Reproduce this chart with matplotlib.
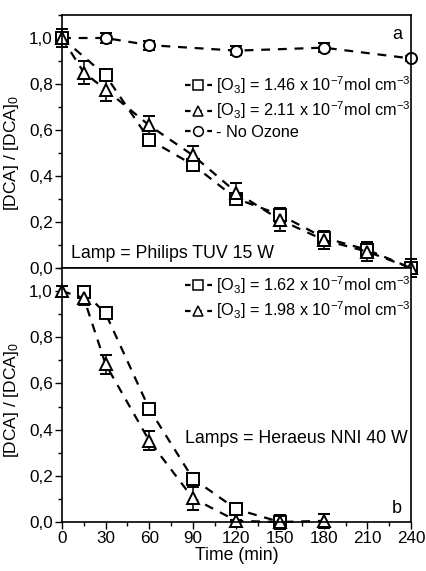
import matplotlib
matplotlib.use("Agg")
import matplotlib.pyplot as plt
from matplotlib.lines import Line2D
from matplotlib.ticker import MultipleLocator, FuncFormatter

plt.rcParams['font.family'] = ['Liberation Sans', 'DejaVu Sans']
plt.rcParams['mathtext.fontset'] = 'custom'
plt.rcParams['mathtext.rm'] = 'Liberation Sans'
plt.rcParams['mathtext.it'] = 'Liberation Sans'
plt.rcParams['font.size'] = 12

# Panel a: Philips TUV 15 W lamp
t_a_sq = [0, 30, 60, 90, 120, 150, 180, 210, 240]
c_a_sq = [1.00, 0.837, 0.558, 0.449, 0.301, 0.231, 0.132, 0.079, 0.0]
e_a_sq = [0.02, 0.02, 0.02, 0.02, 0.02, 0.03, 0.02, 0.02, 0.01]

t_a_tr = [0, 15, 30, 60, 90, 120, 150, 180, 210, 240]
c_a_tr = [1.00, 0.85, 0.776, 0.62, 0.49, 0.328, 0.209, 0.122, 0.071, 0.0]
e_a_tr = [0.02, 0.05, 0.05, 0.04, 0.04, 0.04, 0.05, 0.04, 0.04, 0.04]

t_a_ci = [0, 30, 60, 120, 180, 240]
c_a_ci = [1.00, 1.00, 0.969, 0.945, 0.958, 0.911]
e_a_ci = [0.04, 0.02, 0.02, 0.02, 0.02, 0.01]

# Panel b: Heraeus NNI 40 W lamps
t_b_sq = [15, 30, 60, 90, 120, 150]
c_b_sq = [0.997, 0.903, 0.49, 0.188, 0.055, 0.0]
e_b_sq = [0.01, 0.01, 0.01, 0.01, 0.01, 0.03]

t_b_tr = [0, 15, 30, 60, 90, 120, 150, 180]
c_b_tr = [1.00, 0.97, 0.683, 0.352, 0.103, 0.005, 0.0, 0.005]
e_b_tr = [0.02, 0.03, 0.04, 0.04, 0.05, 0.005, 0.03, 0.03]

lbl_a = [r'[O$_3$] = 1.46 x 10$^{-7}$mol cm$^{-3}$',
         r'[O$_3$] = 2.11 x 10$^{-7}$mol cm$^{-3}$',
         '- No Ozone']
lbl_b = [r'[O$_3$] = 1.62 x 10$^{-7}$mol cm$^{-3}$',
         r'[O$_3$] = 1.98 x 10$^{-7}$mol cm$^{-3}$']

fig = plt.figure(figsize=(4.27, 5.71), dpi=100)
L, R = 62 / 427, 411 / 427
top_a, mid, bot_b = 1 - 15 / 571, 1 - 268 / 571, 1 - 522 / 571
ax_a = fig.add_axes([L, mid, R - L, top_a - mid])
ax_b = fig.add_axes([L, bot_b, R - L, mid - bot_b])

DASH = (0, (4, 3.5))
mk = dict(mfc='white', mec='black', mew=1.4, color='black',
          ecolor='black', elinewidth=1.1, capsize=4, capthick=1.1,
          ls=DASH, lw=1.6)
msize = {'o': 8, 's': 8, '^': 9}


def series(ax, t, c, e, marker):
    h = ax.errorbar(t, c, yerr=e, marker=marker, ms=msize[marker], **mk)
    for art in h.get_children():
        art.set_clip_on(False)
    return h


series(ax_a, t_a_ci, c_a_ci, e_a_ci, 'o')
series(ax_a, t_a_sq, c_a_sq, e_a_sq, 's')
series(ax_a, t_a_tr, c_a_tr, e_a_tr, '^')

series(ax_b, t_b_sq, c_b_sq, e_b_sq, 's')
series(ax_b, t_b_tr, c_b_tr, e_b_tr, '^')

comma = FuncFormatter(lambda v, p: f'{v:.1f}'.replace('.', ','))
for ax in (ax_a, ax_b):
    ax.set_xlim(0, 240)
    ax.set_ylim(0, 1.1)
    ax.yaxis.set_major_locator(MultipleLocator(0.2))
    ax.yaxis.set_minor_locator(MultipleLocator(0.1))
    ax.yaxis.set_major_formatter(comma)
    ax.xaxis.set_major_locator(MultipleLocator(30))
    ax.xaxis.set_minor_locator(MultipleLocator(15))
    ax.tick_params(axis='both', which='major', direction='out', length=5,
                   width=1, labelsize=12.3, pad=1.5)
    ax.tick_params(axis='both', which='minor', direction='out', length=3, width=1)
    for s in ax.spines.values():
        s.set_linewidth(1.2)
    ax.set_ylabel('[DCA] / [DCA]$_0$', fontsize=12.5)

ax_a.yaxis.set_label_coords(-0.117, 0.455)
ax_b.yaxis.set_label_coords(-0.117, 0.48)

ax_a.tick_params(axis='x', which='both', bottom=False, labelbottom=False)
ax_b.set_xlabel('Time (min)', fontsize=12.7, labelpad=1)


def handle(marker):
    return Line2D([], [], color='black', ls=(0, (2.5, 2.5)), lw=1.6,
                  marker=marker, ms=7, mfc='white', mec='black', mew=1.1)


leg_kw = dict(frameon=False, fontsize=11.7, handlelength=1.65,
              handletextpad=0.3, labelspacing=0.22, borderaxespad=0,
              borderpad=0)
ax_a.legend([handle('s'), handle('^'), handle('o')], lbl_a,
            loc='upper right', bbox_to_anchor=(1.0, 0.765), **leg_kw)
ax_b.legend([handle('s'), handle('^')], lbl_b,
            loc='upper right', bbox_to_anchor=(1.0, 0.975), **leg_kw)

ax_a.text(0.975, 0.955, 'a', transform=ax_a.transAxes, ha='right', va='top', fontsize=13)
ax_b.text(0.975, 0.02, 'b', transform=ax_b.transAxes, ha='right', va='bottom', fontsize=13)
ax_a.text(0.025, 0.025, 'Lamp = Philips TUV 15 W', transform=ax_a.transAxes,
          ha='left', va='bottom', fontsize=12.8)
ax_b.text(0.99, 0.33, 'Lamps = Heraeus NNI 40 W', transform=ax_b.transAxes,
          ha='right', va='center', fontsize=12.8)

fig.savefig('out.png', dpi=100)
